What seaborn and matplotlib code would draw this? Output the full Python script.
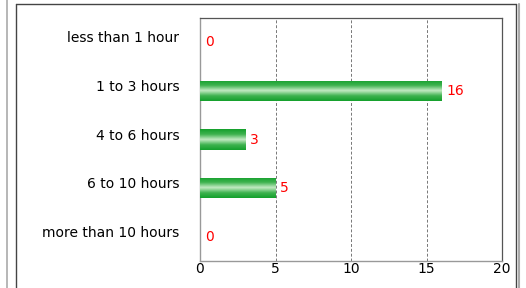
import numpy as np
import pandas as pd
import seaborn as sns
import matplotlib.pyplot as plt
from matplotlib.colors import LinearSegmentedColormap
from matplotlib.lines import Line2D
from matplotlib.transforms import ScaledTranslation

categories = ["less than 1 hour", "1 to 3 hours", "4 to 6 hours",
              "6 to 10 hours", "more than 10 hours"]
counts = [0, 16, 3, 5, 0]
xticks = [0, 5, 10, 15, 20]

data = pd.DataFrame({"category": categories, "count": counts})

sns.set_theme(style="white")
plt.rcParams['font.family'] = ['DejaVu Sans']

fig = plt.figure(figsize=(5.26, 2.88), dpi=100)
ax = fig.add_axes([200/526, 27/288, 302/526, 243/288])

sns.barplot(data=data, x="count", y="category", color="#1a9e2e",
            width=0.42, ax=ax, orient="h")

# gradient fill on each bar (dark edges, light centre)
grad = LinearSegmentedColormap.from_list(
    "g", ["#14a02c", "#3fb350", "#c4ebc4", "#3fb350", "#14a02c"])
col = np.linspace(0, 1, 64).reshape(-1, 1)
for p in ax.patches:
    w = p.get_width()
    if w <= 0:
        continue
    x0, y0, h = p.get_x(), p.get_y(), p.get_height()
    im = ax.imshow(col, cmap=grad, aspect="auto", interpolation="bilinear",
                   extent=[x0, x0 + w, y0 + h, y0], zorder=3)
    im.set_clip_path(p)
    p.set_edgecolor("none")

for i, v in enumerate(counts):
    ax.annotate(str(v), (v, i), xytext=(3.5, 0), textcoords="offset points",
                color="red", fontsize=10, va="center", ha="left", zorder=4)

ax.set_xlim(0, 20)
ax.set_ylim(4.5, -0.5)
ax.set_xticks(xticks)
ax.set_xlabel("")
ax.set_ylabel("")
ax.xaxis.grid(True, linestyle=(0, (3, 2)), color="#777777", linewidth=0.7)
ax.set_axisbelow(True)
ax.tick_params(axis="x", bottom=True, length=0, labelsize=10,
               labelcolor="black", pad=1)
ax.tick_params(axis="y", left=False, labelsize=10, labelcolor="black", pad=9)
ax.set_yticks(range(len(categories)))
ax.set_yticklabels(categories, va="center")
shift = ScaledTranslation(0, 4/100, fig.dpi_scale_trans)
for lbl in ax.get_yticklabels():
    lbl.set_transform(lbl.get_transform() + shift)
for s in ["left", "bottom"]:
    ax.spines[s].set_color("#999999")
    ax.spines[s].set_linewidth(1.0)
for s in ["top", "right"]:
    ax.spines[s].set_color("#555555")
    ax.spines[s].set_linewidth(0.9)

# surrounding panel frames
fig.add_artist(Line2D([7/526, 7/526], [0, 1], color="#aaaaaa", lw=1.2))
fig.add_artist(Line2D([16/526, 16/526], [0, 284/288], color="#444444", lw=1.0))
fig.add_artist(Line2D([16/526, 516/526], [284/288, 284/288], color="#444444", lw=1.0))
fig.add_artist(Line2D([516/526, 516/526], [0, 284/288], color="#444444", lw=1.0))
fig.add_artist(Line2D([519/526, 519/526], [0, 284/288], color="#aaaaaa", lw=1.5))

fig.savefig("out.png", dpi=100)
